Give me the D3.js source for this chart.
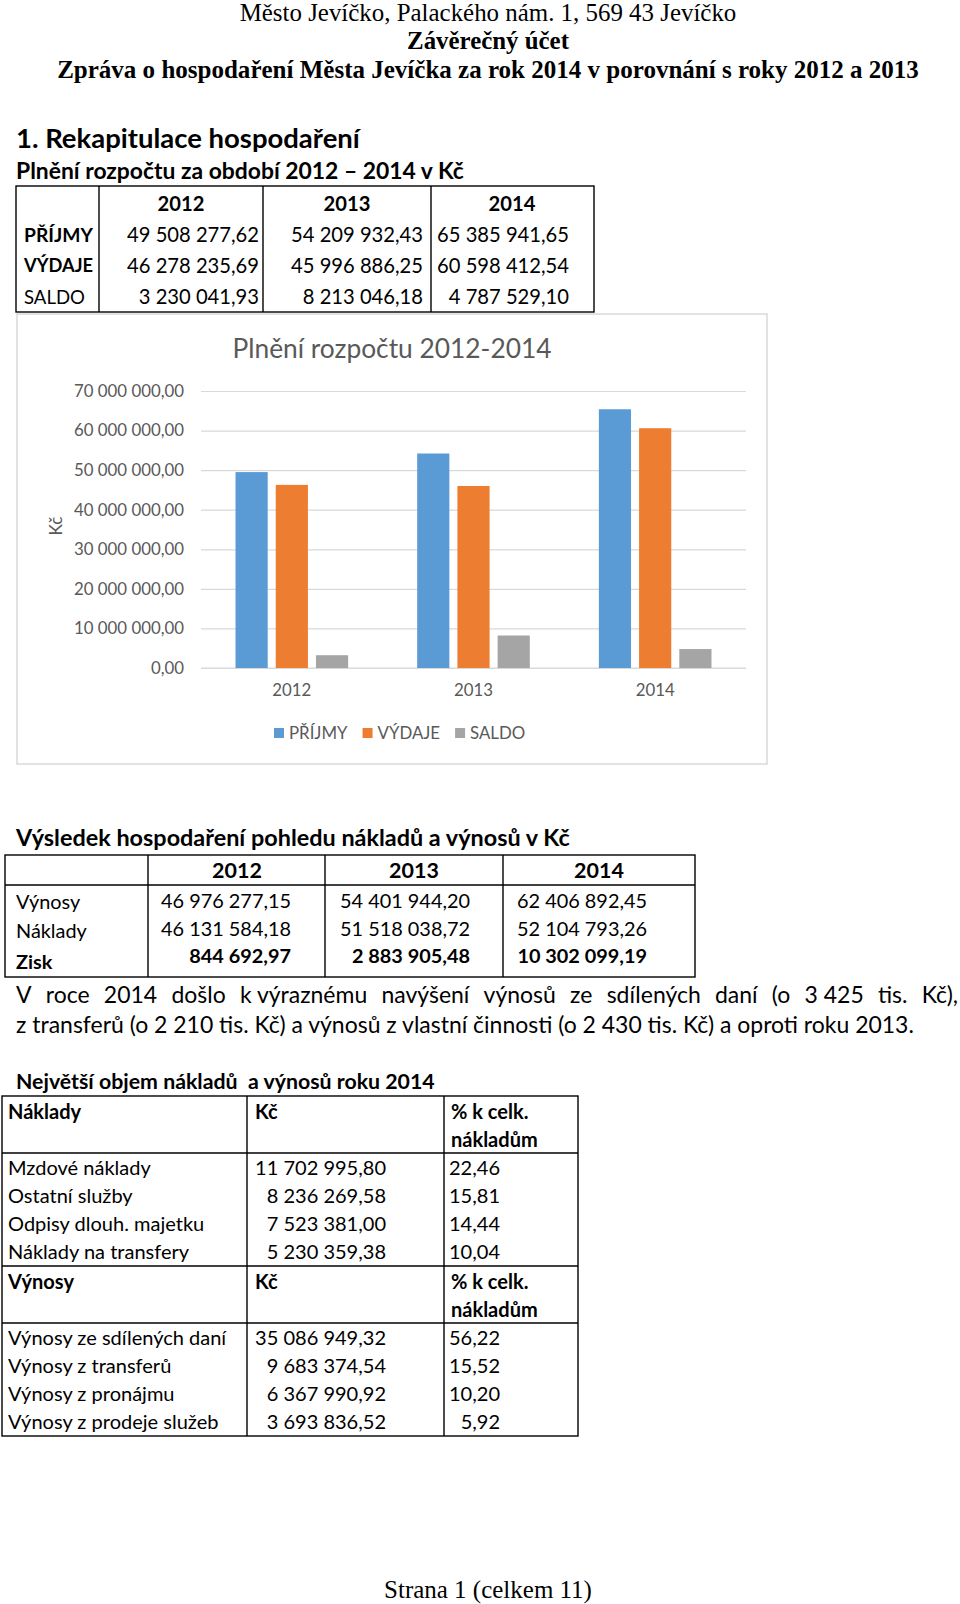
<!DOCTYPE html>
<html><head><meta charset="utf-8">
<script src="https://cdn.jsdelivr.net/npm/d3@7"></script>
<style>body{margin:0;background:#fff}svg{display:block}text{white-space:pre}</style>
</head><body><svg id="page" width="960" height="1604"></svg>
<script>
// ---------- data ----------
const years = ["2012", "2013", "2014"];
const seriesNames = ["PŘÍJMY", "VÝDAJE", "SALDO"];
const prijmy = [49508277.62, 54209932.43, 65385941.65];
const vydaje = [46278235.69, 45996886.25, 60598412.54];
const saldo = [3230041.93, 8213046.18, 4787529.10];
const seriesColors = ["#5B9BD5", "#ED7D31", "#A5A5A5"];
const yTickValues = [0, 10000000, 20000000, 30000000, 40000000, 50000000, 60000000, 70000000];

const vynosy = [46976277.15, 54401944.20, 62406892.45];
const naklady = [46131584.18, 51518038.72, 52104793.26];
const zisk = [844692.97, 2883905.48, 10302099.19];

const topNakladyLabels = ["Mzdové náklady", "Ostatní služby", "Odpisy dlouh. majetku", "Náklady na transfery"];
const topNakladyValues = [11702995.80, 8236269.58, 7523381.00, 5230359.38];
const topNakladyPct = [22.46, 15.81, 14.44, 10.04];
const topVynosyLabels = ["Výnosy ze sdílených daní", "Výnosy z transferů", "Výnosy z pronájmu", "Výnosy z prodeje služeb"];
const topVynosyValues = [35086949.32, 9683374.54, 6367990.92, 3693836.52];
const topVynosyPct = [56.22, 15.52, 10.20, 5.92];

const para1 = ["V", "roce", "2014", "došlo", "k výraznému", "navýšení", "výnosů", "ze", "sdílených", "daní", "(o", "3 425", "tis.", "Kč),"];
const para2 = "z transferů (o 2 210 tis. Kč) a výnosů z vlastní činnosti (o 2 430 tis. Kč) a oproti roku 2013.";

// ---------- helpers ----------
const loc = d3.formatLocale({decimal: ",", thousands: " ", grouping: [3], currency: ["", " Kč"]});
const fmt = loc.format(",.2f");
const fmtPct = loc.format(".2f");

const svg = d3.select("#page");
const SANS = "Lato, 'Noto Sans', sans-serif";
const SERIF = "'Liberation Serif', 'Times New Roman', serif";

function measure(text, size, family, weight) {
  const t = svg.append("text").attr("font-family", family).attr("font-size", size)
    .attr("font-weight", weight || 400).text(text);
  const w = t.node().getComputedTextLength();
  t.remove();
  return w;
}
function fitSize(text, width, family, weight) {
  return 20 * width / measure(text, 20, family, weight);
}
function txt(g, x, y, s, o) {
  o = o || {};
  return g.append("text")
    .attr("x", x).attr("y", y).attr("dy", o.dy || "0.35em")
    .attr("font-family", o.family || SANS)
    .attr("font-size", o.size)
    .attr("font-weight", o.weight || 400)
    .attr("fill", o.fill || "#000")
    .attr("text-anchor", o.anchor || "start")
    .text(s);
}
function fitTxt(g, x, y, s, width, o) {
  o = o || {};
  o.size = fitSize(s, width, o.family || SANS, o.weight);
  return txt(g, x, y, s, o);
}
function line(g, x1, y1, x2, y2, c, w) {
  g.append("line").attr("x1", x1).attr("y1", y1).attr("x2", x2).attr("y2", y2)
    .attr("stroke", c || "#000").attr("stroke-width", w || 1.4);
}
function box(g, x1, y1, x2, y2) {
  g.append("rect").attr("x", x1).attr("y", y1).attr("width", x2 - x1).attr("height", y2 - y1)
    .attr("fill", "none").attr("stroke", "#000").attr("stroke-width", 1.4);
}

// ---------- page header ----------
const head = svg.append("g");
fitTxt(head, 488, 13, "Město Jevíčko, Palackého nám. 1, 569 43 Jevíčko", 497, {family: SERIF, anchor: "middle", dy: "0.32em"});
fitTxt(head, 488, 41, "Závěrečný účet", 162, {family: SERIF, weight: 700, anchor: "middle", dy: "0.32em"});
fitTxt(head, 488, 70, "Zpráva o hospodaření Města Jevíčka za rok 2014 v porovnání s roky 2012 a 2013", 862, {family: SERIF, weight: 700, anchor: "middle", dy: "0.32em"});

// ---------- table 1 ----------
const t1 = svg.append("g");
fitTxt(t1, 16, 138, "1. Rekapitulace hospodaření", 344, {weight: 700});
fitTxt(t1, 16, 171, "Plnění rozpočtu za období 2012 – 2014 v Kč", 448, {weight: 700});
const t1Size = fitSize(fmt(prijmy[0]), 132, SANS, 400);
box(t1, 16, 186, 594, 312);
[99, 263, 431].forEach(x => line(t1, x, 186, x, 312));
const t1Centers = [181, 347, 512];
const t1Right = [259, 423, 569];
years.forEach((y, i) => txt(t1, t1Centers[i], 204, y, {size: t1Size, weight: 700, anchor: "middle"}));
const t1Rows = [
  {label: "PŘÍJMY", bold: true, vals: prijmy, y: 235, w: 69},
  {label: "VÝDAJE", bold: true, vals: vydaje, y: 266, w: 69},
  {label: "SALDO", bold: false, vals: saldo, y: 297, w: 61}
];
t1Rows.forEach(r => {
  const ls = Math.min(t1Size, fitSize(r.label, r.w, SANS, r.bold ? 700 : 400));
  txt(t1, 24, r.y, r.label, {size: ls, weight: r.bold ? 700 : 400});
  r.vals.forEach((v, i) => txt(t1, t1Right[i], r.y, fmt(v), {size: t1Size, anchor: "end"}));
});

// ---------- chart ----------
const ch = svg.append("g");
ch.append("rect").attr("x", 17).attr("y", 314).attr("width", 750).attr("height", 450)
  .attr("fill", "#fff").attr("stroke", "#d9d9d9").attr("stroke-width", 1.5);
fitTxt(ch, 392, 349, "Plnění rozpočtu 2012-2014", 319, {anchor: "middle", fill: "#595959", weight: 400});

const y = d3.scaleLinear().domain([0, 70000000]).range([668, 391]);
const x0 = d3.scaleBand().domain(years).range([201, 746]).paddingInner(0.38).paddingOuter(0.19);
const x1 = d3.scaleBand().domain(seriesNames).range([0, x0.bandwidth()]).paddingInner(0.2);
const axisSize = fitSize(fmt(70000000), 110, SANS, 400);

const yAxis = ch.append("g").attr("transform", "translate(201,0)")
  .call(d3.axisLeft(y).tickValues(yTickValues).tickFormat(fmt).tickSize(-545).tickPadding(17));
yAxis.select(".domain").remove();
yAxis.selectAll(".tick line").attr("stroke", "#d9d9d9").attr("stroke-width", 1.2);
yAxis.selectAll(".tick text").attr("font-family", SANS).attr("font-size", axisSize).attr("fill", "#595959");

const xAxis = ch.append("g").attr("transform", "translate(0,668)")
  .call(d3.axisBottom(x0).tickSize(0).tickPadding(16));
xAxis.select(".domain").attr("stroke", "#d9d9d9").attr("stroke-width", 1.2)
  .attr("d", "M201,0H746");
xAxis.selectAll(".tick text").attr("font-family", SANS).attr("font-size", axisSize).attr("fill", "#595959");

const seriesData = [prijmy, vydaje, saldo];
const groups = ch.append("g").selectAll("g").data(years).join("g")
  .attr("transform", d => `translate(${x0(d)},0)`);
groups.selectAll("rect")
  .data((d, i) => seriesNames.map((s, k) => ({s, v: seriesData[k][i], c: seriesColors[k]})))
  .join("rect")
  .attr("x", d => x1(d.s)).attr("width", x1.bandwidth())
  .attr("y", d => y(d.v)).attr("height", d => y(0) - y(d.v))
  .attr("fill", d => d.c);

const kcSize = fitSize("Kč", 19, SANS, 400);
ch.append("text").attr("transform", "translate(56,526) rotate(-90)")
  .attr("dy", "0.35em").attr("text-anchor", "middle")
  .attr("font-family", SANS).attr("font-size", kcSize).attr("fill", "#595959").text("Kč");

let lx = 274;
seriesNames.forEach((s, k) => {
  ch.append("rect").attr("x", lx).attr("y", 728).attr("width", 10).attr("height", 10).attr("fill", seriesColors[k]);
  const t = txt(ch, lx + 15, 733, s, {size: axisSize, fill: "#595959"});
  lx += 15 + t.node().getComputedTextLength() + 15;
});

// ---------- table 2 ----------
const t2 = svg.append("g");
fitTxt(t2, 16, 838, "Výsledek hospodaření pohledu nákladů a výnosů v Kč", 554, {weight: 700});
const t2Size = fitSize(fmt(vynosy[0]), 130, SANS, 400);
box(t2, 5, 855, 695, 977);
line(t2, 5, 885, 695, 885);
[148, 325, 503].forEach(x => line(t2, x, 855, x, 977));
const t2Centers = [237, 414, 599];
const t2Right = [291, 470, 647];
years.forEach((yy, i) => txt(t2, t2Centers[i], 870, yy, {size: t2Size * 1.08, weight: 700, anchor: "middle"}));
const t2Rows = [
  {label: "Výnosy", vals: vynosy, ly: 902, vy: 901, bold: false},
  {label: "Náklady", vals: naklady, ly: 931, vy: 929, bold: false},
  {label: "Zisk", vals: zisk, ly: 962, vy: 956, bold: true}
];
t2Rows.forEach(r => {
  txt(t2, 16, r.ly, r.label, {size: t2Size, weight: r.bold ? 700 : 400});
  r.vals.forEach((v, i) => txt(t2, t2Right[i], r.vy, fmt(v), {size: t2Size, weight: r.bold ? 700 : 400, anchor: "end"}));
});

// ---------- paragraph ----------
const pg = svg.append("g");
const pSize = fitSize(para2, 898, SANS, 400);
txt(pg, 16, 1025, para2, {size: pSize});
const wWidths = para1.map(w => measure(w, pSize, SANS, 400));
const totalW = d3.sum(wWidths);
const gap = (958 - 16 - totalW) / (para1.length - 1);
let px = 16;
para1.forEach((w, i) => {
  txt(pg, px, 995, w, {size: pSize});
  px += wWidths[i] + gap;
});

// ---------- table 3 ----------
const t3 = svg.append("g");
fitTxt(t3, 16, 1082, "Největší objem nákladů  a výnosů roku 2014", 419, {weight: 700});
const t3Size = fitSize(fmt(topNakladyValues[0]), 131, SANS, 400);
box(t3, 2, 1096, 578, 1436);
[1153, 1266, 1323].forEach(yy => line(t3, 2, yy, 578, yy));
[247, 444].forEach(x => line(t3, x, 1096, x, 1436));

function t3Block(title, hy, labels, vals, pcts, rowY) {
  txt(t3, 8, hy, title, {size: t3Size, weight: 700});
  txt(t3, 255, hy, "Kč", {size: t3Size, weight: 700});
  txt(t3, 451, hy, "% k celk.", {size: t3Size, weight: 700});
  txt(t3, 451, hy + 28, "nákladům", {size: t3Size, weight: 700});
  labels.forEach((l, i) => {
    const yy = rowY[i];
    txt(t3, 8, yy, l, {size: t3Size});
    txt(t3, 386, yy, fmt(vals[i]), {size: t3Size, anchor: "end"});
    txt(t3, 500, yy, fmtPct(pcts[i]), {size: t3Size, anchor: "end"});
  });
}
t3Block("Náklady", 1112, topNakladyLabels, topNakladyValues, topNakladyPct, [1168, 1196, 1224, 1252]);
t3Block("Výnosy", 1282, topVynosyLabels, topVynosyValues, topVynosyPct, [1338, 1366, 1394, 1422]);

// ---------- footer ----------
fitTxt(svg, 488, 1590, "Strana 1 (celkem 11)", 208, {family: SERIF, anchor: "middle", dy: "0.32em"});
</script>
</body></html>
